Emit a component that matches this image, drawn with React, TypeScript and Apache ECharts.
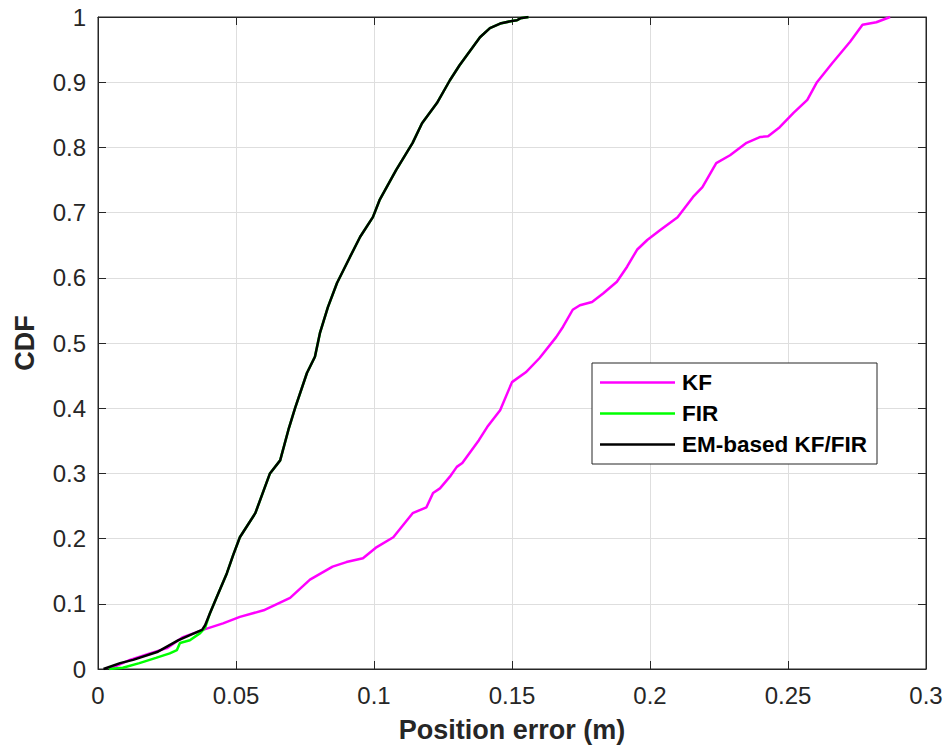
import React, { useEffect, useRef } from "react";
import * as echarts from "echarts";

const xTicks = [0, 0.05, 0.1, 0.15, 0.2, 0.25, 0.3];
const yTicks = [0, 0.1, 0.2, 0.3, 0.4, 0.5, 0.6, 0.7, 0.8, 0.9, 1];

const seriesNames = ["KF", "FIR", "EM-based KF/FIR"];
const seriesColors = ["#FF00FF", "#00FF00", "#000000"];

const kfData: [number, number][] = [
  [0.004, 0], [0.0116, 0.014], [0.0188, 0.024], [0.025, 0.032], [0.0308, 0.049],
  [0.038, 0.06], [0.0453, 0.07], [0.0514, 0.08], [0.06, 0.09], [0.0696, 0.109],
  [0.0768, 0.137], [0.085, 0.157], [0.09, 0.164], [0.096, 0.17], [0.101, 0.187],
  [0.107, 0.202], [0.114, 0.239], [0.119, 0.248], [0.1214, 0.27], [0.1239, 0.277],
  [0.1275, 0.295], [0.13, 0.31], [0.132, 0.316], [0.138, 0.351], [0.141, 0.371],
  [0.1457, 0.397], [0.15, 0.44], [0.155, 0.455], [0.16, 0.477], [0.166, 0.509],
  [0.1685, 0.525], [0.172, 0.551], [0.1746, 0.558], [0.179, 0.563], [0.183, 0.576],
  [0.188, 0.594], [0.1917, 0.617], [0.1953, 0.643], [0.199, 0.658], [0.2036, 0.673],
  [0.21, 0.693], [0.2156, 0.724], [0.219, 0.739], [0.224, 0.776], [0.229, 0.788],
  [0.235, 0.807], [0.24, 0.816], [0.2428, 0.817], [0.247, 0.831], [0.252, 0.853],
  [0.257, 0.873], [0.2605, 0.9], [0.266, 0.929], [0.2725, 0.962], [0.277, 0.988],
  [0.282, 0.992], [0.287, 1.0],
];

const firData: [number, number][] = [
  [0.004, 0], [0.009, 0.002], [0.015, 0.009], [0.021, 0.017], [0.026, 0.024],
  [0.0286, 0.029], [0.0297, 0.04], [0.0333, 0.044], [0.037, 0.055], [0.0388, 0.063],
  [0.0406, 0.086], [0.043, 0.11], [0.0467, 0.147], [0.049, 0.175], [0.0514, 0.202],
  [0.057, 0.239], [0.0623, 0.3], [0.066, 0.32], [0.069, 0.367], [0.0714, 0.4],
  [0.0757, 0.454], [0.0786, 0.479], [0.0804, 0.515], [0.0833, 0.555], [0.0866, 0.592],
  [0.0913, 0.632], [0.095, 0.663], [0.0996, 0.693], [0.102, 0.719], [0.108, 0.765],
  [0.114, 0.807], [0.1174, 0.837], [0.1228, 0.868], [0.1275, 0.903], [0.131, 0.926],
  [0.1355, 0.952], [0.1384, 0.969], [0.142, 0.983], [0.1457, 0.99], [0.15, 0.994],
  [0.1518, 0.995], [0.153, 0.998], [0.156, 1.0],
];

const emData: [number, number][] = [
  [0.002, 0], [0.008, 0.009], [0.0127, 0.014], [0.0214, 0.026], [0.029, 0.044],
  [0.0333, 0.052], [0.0377, 0.06], [0.0388, 0.067], [0.0406, 0.086], [0.043, 0.11],
  [0.0467, 0.147], [0.049, 0.175], [0.0514, 0.202], [0.057, 0.239], [0.0623, 0.3],
  [0.066, 0.32], [0.069, 0.367], [0.0714, 0.4], [0.0757, 0.454], [0.0786, 0.479],
  [0.0804, 0.515], [0.0833, 0.555], [0.0866, 0.592], [0.0913, 0.632], [0.095, 0.663],
  [0.0996, 0.693], [0.102, 0.719], [0.108, 0.765], [0.114, 0.807], [0.1174, 0.837],
  [0.1228, 0.868], [0.1275, 0.903], [0.131, 0.926], [0.1355, 0.952], [0.1384, 0.969],
  [0.142, 0.983], [0.1457, 0.99], [0.15, 0.994], [0.1518, 0.995], [0.153, 0.998],
  [0.156, 1.0],
];

const FONT = '"Liberation Sans", Arial, Helvetica, sans-serif';
const AX = "#262626";

export default function App() {
  const ref = useRef<HTMLDivElement>(null);
  useEffect(() => {
    if (!ref.current) return;
    const chart = echarts.init(ref.current, undefined, { renderer: "svg" });
    const xFmt = (v: number) => {
      const t = xTicks.find((k) => Math.abs(k - v) < 1e-9);
      return t === undefined ? "" : String(t);
    };
    const yFmt = (v: number) => {
      const t = yTicks.find((k) => Math.abs(k - v) < 1e-9);
      return t === undefined ? "" : String(t);
    };
    const datas = [kfData, firData, emData];
    chart.setOption({
      animation: false,
      backgroundColor: "#ffffff",
      textStyle: { fontFamily: FONT },
      grid: {
        left: 98, right: 24, top: 17, bottom: 82,
        show: true, borderColor: AX, borderWidth: 1, backgroundColor: "#ffffff",
      },
      legend: {
        orient: "vertical",
        left: 592,
        top: 363,
        data: seriesNames.map((n) => ({ name: n, icon: "rect" })),
        itemWidth: 75,
        itemHeight: 2.5,
        itemGap: 8,
        padding: [8, 10, 8, 8],
        borderColor: AX,
        borderWidth: 1,
        backgroundColor: "#ffffff",
        textStyle: { fontSize: 22.5, fontWeight: "bold", color: "#000", fontFamily: FONT, lineHeight: 23, padding: [0, 0, 0, 2] },
      },
      xAxis: [
        {
          type: "value", min: 0, max: 0.3, interval: 0.05,
          name: "Position error (m)", nameLocation: "middle", nameGap: 47,
          nameTextStyle: { fontSize: 27, fontWeight: "bold", color: AX, fontFamily: FONT },
          axisLine: { show: true, onZero: false, lineStyle: { color: AX, width: 1 } },
          axisTick: { show: true, inside: true, length: 8, lineStyle: { color: AX } },
          axisLabel: { formatter: xFmt, fontSize: 24, color: AX, margin: 14, fontFamily: FONT },
          splitLine: { show: true, lineStyle: { color: "#dedede", width: 1 } },
        },
        {
          type: "value", min: 0, max: 0.3, interval: 0.05, position: "top",
          axisLine: { show: true, onZero: false, lineStyle: { color: AX, width: 1 } },
          axisTick: { show: true, inside: true, length: 8, lineStyle: { color: AX } },
          axisLabel: { show: false },
          splitLine: { show: false },
        },
      ],
      yAxis: [
        {
          type: "value", min: 0, max: 1, interval: 0.1,
          name: "CDF", nameLocation: "middle", nameGap: 60, nameRotate: 90,
          nameTextStyle: { fontSize: 27, fontWeight: "bold", color: AX, fontFamily: FONT },
          axisLine: { show: true, onZero: false, lineStyle: { color: AX, width: 1 } },
          axisTick: { show: true, inside: true, length: 8, lineStyle: { color: AX } },
          axisLabel: { formatter: yFmt, fontSize: 24, color: AX, margin: 12, fontFamily: FONT },
          splitLine: { show: true, lineStyle: { color: "#dedede", width: 1 } },
        },
        {
          type: "value", min: 0, max: 1, interval: 0.1, position: "right",
          axisLine: { show: true, onZero: false, lineStyle: { color: AX, width: 1 } },
          axisTick: { show: true, inside: true, length: 8, lineStyle: { color: AX } },
          axisLabel: { show: false },
          splitLine: { show: false },
        },
      ],
      series: seriesNames.map((name, i) => ({
        name,
        type: "line",
        data: datas[i],
        showSymbol: false,
        symbol: "none",
        color: seriesColors[i],
        itemStyle: { color: seriesColors[i] },
        lineStyle: { color: seriesColors[i], width: 2.5 },
        z: 3 + i,
      })),
    });
    return () => chart.dispose();
  }, []);
  return (
    <div
      ref={ref}
      style={{ position: "absolute", left: 0, top: 0, width: 950, height: 751 }}
    />
  );
}
